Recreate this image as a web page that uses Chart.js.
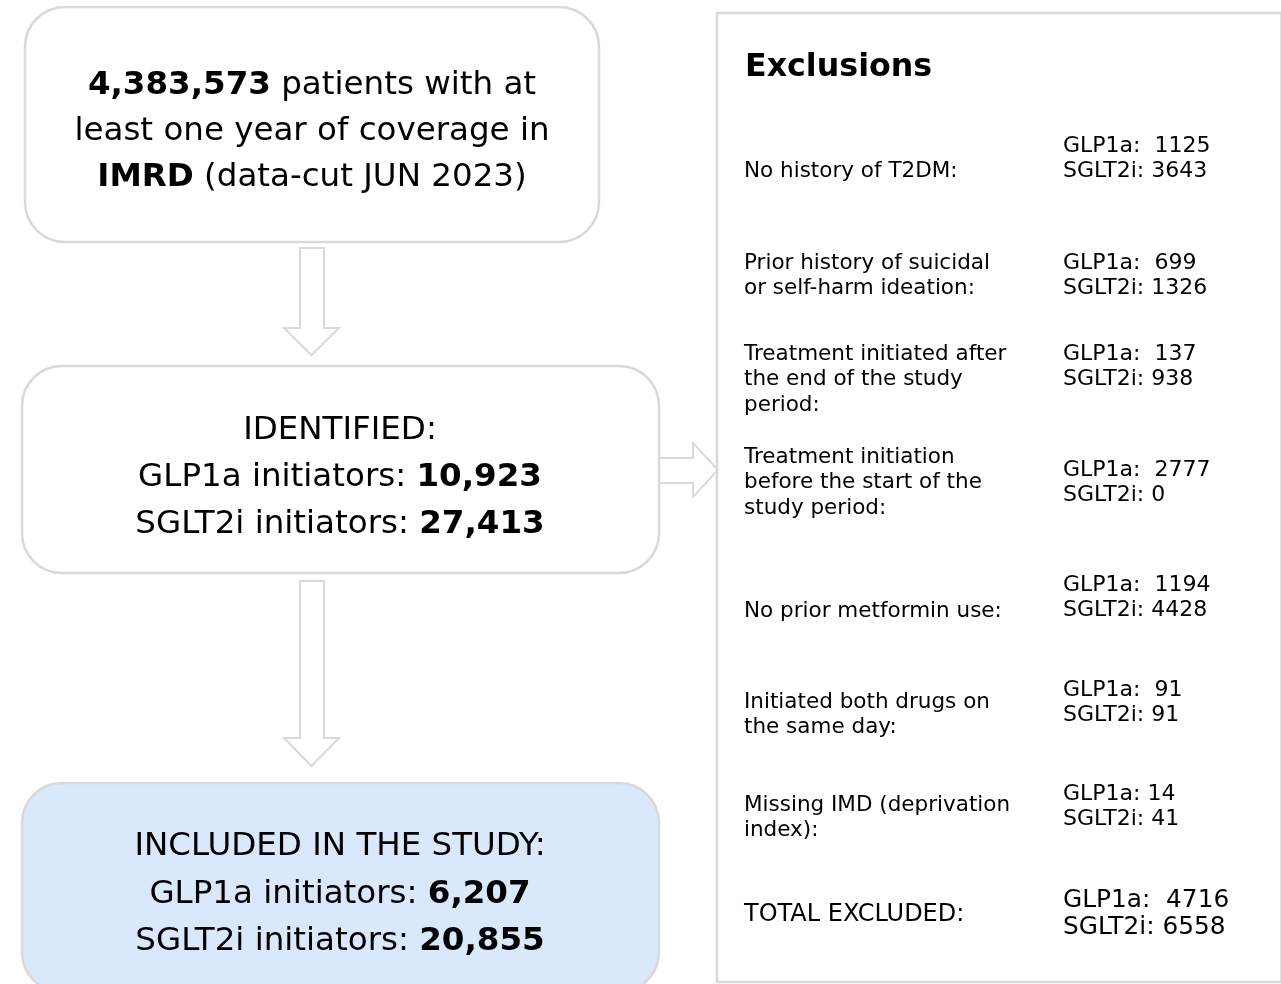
<!DOCTYPE html>
<html>
<head>
<meta charset="utf-8">
<script src="https://cdn.jsdelivr.net/npm/chart.js@4.4.0/dist/chart.umd.min.js"></script>
<style>
  html, body { margin: 0; padding: 0; background: #fff; }
  #wrap { width: 1281px; height: 984px; }
</style>
</head>
<body>
<div id="wrap"><canvas id="fluxo"></canvas></div>
<script>
const totalPatients = '4,383,573';
const identified = ['10,923', '27,413'];   // GLP1a, SGLT2i
const included = ['6,207', '20,855'];      // GLP1a, SGLT2i
const exclusionReasons = [
    ['No history of T2DM:'],
    ['Prior history of suicidal', 'or self-harm ideation:'],
    ['Treatment initiated after', 'the end of the study', 'period:'],
    ['Treatment initiation', 'before the start of the', 'study period:'],
    ['No prior metformin use:'],
    ['Initiated both drugs on', 'the same day:'],
    ['Missing IMD (deprivation', 'index):']
];
const excludedGLP1a = [1125, 699, 137, 2777, 1194, 91, 14];
const excludedSGLT2i = [3643, 1326, 938, 0, 4428, 91, 41];
const glp1aGap = [2, 2, 2, 2, 2, 2, 1]; // espaços depois de "GLP1a:"
const totalExcluded = [4716, 6558];

const fonte = '"DejaVu Sans", Verdana, sans-serif';

// linha de texto com partes em negrito, centrada em cx (cy = meio das maiusculas)
function textoMisto(ctx, partes, cx, cy, tam) {
    let largura = 0;
    partes.forEach(p => {
        ctx.font = (p[1] ? 'bold ' : '') + tam + 'px ' + fonte;
        p.w = ctx.measureText(p[0]).width;
        largura += p.w;
    });
    let x = cx - largura / 2;
    ctx.textAlign = 'left';
    ctx.textBaseline = 'alphabetic';
    partes.forEach(p => {
        ctx.font = (p[1] ? 'bold ' : '') + tam + 'px ' + fonte;
        ctx.fillText(p[0], x, cy + 0.36 * tam);
        x += p.w;
    });
}

function texto(ctx, t, x, cy, tam, bold) {
    ctx.font = (bold ? 'bold ' : '') + tam + 'px ' + fonte;
    ctx.textAlign = 'left';
    ctx.textBaseline = 'alphabetic';
    ctx.fillText(t, x, cy + 0.36 * tam);
}

function caixaRedonda(ctx, x0, y0, x1, y1, r) {
    ctx.beginPath();
    ctx.moveTo(x0 + r, y0);
    ctx.lineTo(x1 - r, y0);
    ctx.arcTo(x1, y0, x1, y0 + r, r);
    ctx.lineTo(x1, y1 - r);
    ctx.arcTo(x1, y1, x1 - r, y1, r);
    ctx.lineTo(x0 + r, y1);
    ctx.arcTo(x0, y1, x0, y1 - r, r);
    ctx.lineTo(x0, y0 + r);
    ctx.arcTo(x0, y0, x0 + r, y0, r);
    ctx.closePath();
}

const desenhoFluxo = {
    id: 'desenhoFluxo',
    afterDraw(chart) {
        const ctx = chart.ctx;
        const X = v => chart.scales.x.getPixelForValue(v);
        const Y = v => chart.scales.y.getPixelForValue(v);
        const borda = '#d9d9d9';
        ctx.save();
        ctx.lineJoin = 'miter';

        // caixas da esquerda
        const caixas = [
            [25, 7, 599, 242, '#ffffff'],
            [22, 366, 659, 573, '#ffffff'],
            [22, 783, 659, 992, '#dae8fc']
        ];
        caixas.forEach(c => {
            caixaRedonda(ctx, X(c[0]), Y(c[1]), X(c[2]), Y(c[3]), 40);
            ctx.fillStyle = c[4];
            ctx.fill();
            ctx.lineWidth = 2.5;
            ctx.strokeStyle = borda;
            ctx.stroke();
        });

        // setas para baixo
        [[248, 328, 355], [581, 738, 766]].forEach(s => {
            ctx.beginPath();
            ctx.moveTo(X(300), Y(s[0]));
            ctx.lineTo(X(324), Y(s[0]));
            ctx.lineTo(X(324), Y(s[1]));
            ctx.lineTo(X(339), Y(s[1]));
            ctx.lineTo(X(311.5), Y(s[2]));
            ctx.lineTo(X(284), Y(s[1]));
            ctx.lineTo(X(300), Y(s[1]));
            ctx.closePath();
            ctx.fillStyle = '#fff';
            ctx.fill();
            ctx.lineWidth = 2;
            ctx.strokeStyle = borda;
            ctx.stroke();
        });

        // seta para a direita
        ctx.beginPath();
        ctx.moveTo(X(660), Y(458));
        ctx.lineTo(X(693), Y(458));
        ctx.lineTo(X(693), Y(443));
        ctx.lineTo(X(718), Y(470));
        ctx.lineTo(X(693), Y(497));
        ctx.lineTo(X(693), Y(483));
        ctx.lineTo(X(660), Y(483));
        ctx.lineWidth = 2;
        ctx.strokeStyle = borda;
        ctx.stroke();

        // caixa de exclusões
        ctx.lineWidth = 2.5;
        ctx.strokeStyle = borda;
        ctx.strokeRect(X(717), Y(13), X(1281.5) - X(717), Y(982) - Y(13));

        ctx.fillStyle = '#000';
        // textos da esquerda
        const tm = 32.5;
        textoMisto(ctx, [[totalPatients, true], [' patients with at', false]], X(312), Y(82), tm);
        textoMisto(ctx, [['least one year of coverage in', false]], X(312), Y(128), tm);
        textoMisto(ctx, [['IMRD', true], [' (data-cut JUN 2023)', false]], X(312), Y(174), tm);

        textoMisto(ctx, [['IDENTIFIED:', false]], X(340), Y(427), tm);
        textoMisto(ctx, [['GLP1a initiators: ', false], [identified[0], true]], X(340), Y(474), tm);
        textoMisto(ctx, [['SGLT2i initiators: ', false], [identified[1], true]], X(340), Y(521), tm);

        textoMisto(ctx, [['INCLUDED IN THE STUDY:', false]], X(340), Y(843), tm);
        textoMisto(ctx, [['GLP1a initiators: ', false], [included[0], true]], X(340), Y(891), tm);
        textoMisto(ctx, [['SGLT2i initiators: ', false], [included[1], true]], X(340), Y(938), tm);

        // textos das exclusões
        texto(ctx, 'Exclusions', X(745), Y(65), 31.7, true);
        const linhaRotulo = [169, 261, 352, 455, 609, 700, 803];
        const linhaValor = [144, 261, 352, 468, 583, 688, 792];
        const passo = 25.5;
        exclusionReasons.forEach((linhas, i) => {
            linhas.forEach((t, j) => texto(ctx, t, X(744), Y(linhaRotulo[i] + j * passo), 21.5));
            texto(ctx, 'GLP1a:' + ' '.repeat(glp1aGap[i]) + excludedGLP1a[i], X(1063), Y(linhaValor[i]), 22);
            texto(ctx, 'SGLT2i: ' + excludedSGLT2i[i], X(1063), Y(linhaValor[i] + passo), 22);
        });
        texto(ctx, 'TOTAL EXCLUDED:', X(744), Y(912), 24);
        texto(ctx, 'GLP1a:  ' + totalExcluded[0], X(1063), Y(898), 24.8);
        texto(ctx, 'SGLT2i: ' + totalExcluded[1], X(1063), Y(925), 24.8);

        ctx.restore();
    }
};

new Chart(document.getElementById('fluxo').getContext('2d'), {
    type: 'scatter',
    data: { datasets: [{ data: [] }] },
    options: {
        responsive: true,
        maintainAspectRatio: false,
        animation: false,
        layout: { padding: 0 },
        plugins: { legend: { display: false }, tooltip: { enabled: false } },
        scales: {
            x: { type: 'linear', min: 0, max: 1281, display: false },
            y: { type: 'linear', min: 0, max: 984, reverse: true, display: false }
        }
    },
    plugins: [desenhoFluxo]
});
</script>
</body>
</html>
